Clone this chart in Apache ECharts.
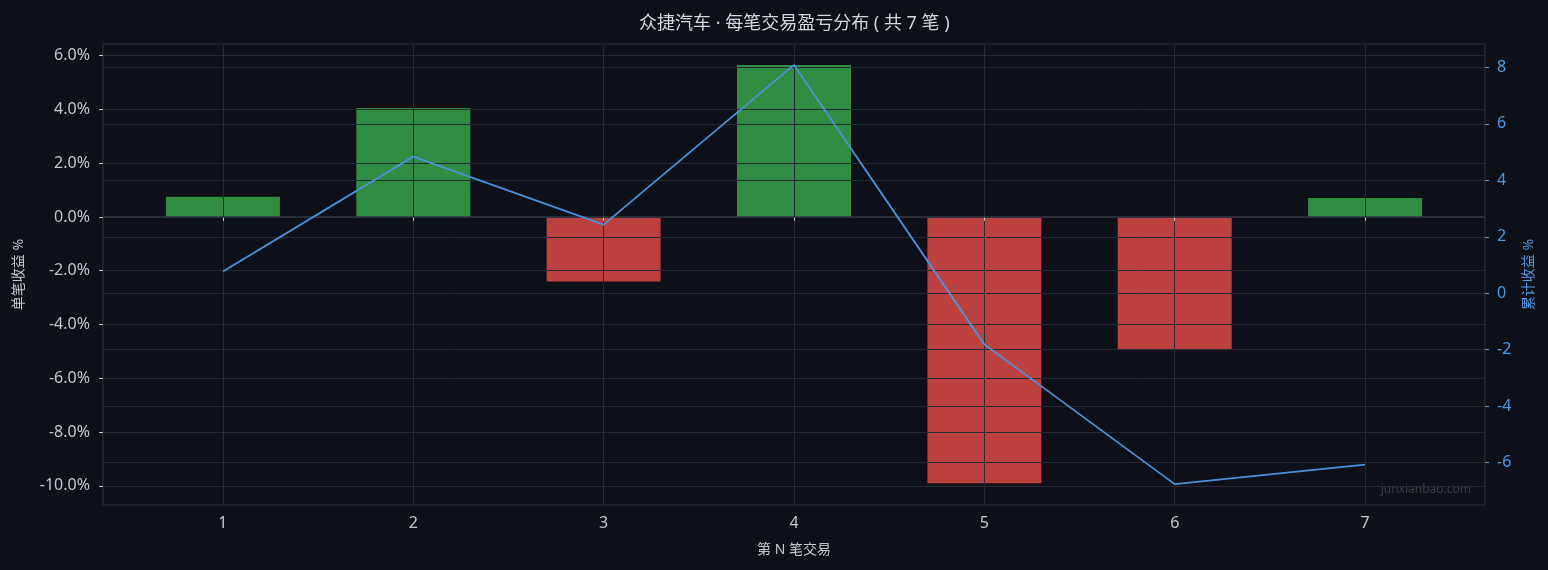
<!DOCTYPE html>
<html>
<head>
<meta charset="utf-8">
<script src="https://cdn.jsdelivr.net/npm/echarts@6/dist/echarts.min.js"></script>
<style>
html,body{margin:0;padding:0;background:#0d1017;}
#c{width:1548px;height:570px;}
</style>
</head>
<body>
<div id="c"></div>
<script>
const trades = [1, 2, 3, 4, 5, 6, 7];
const tradeReturns = [0.75, 4.05, -2.40, 5.65, -9.90, -4.92, 0.70];
const cumReturns = [0.77, 4.84, 2.43, 8.09, -1.81, -6.76, -6.07];
const leftTicks = [-10, -8, -6, -4, -2, 0, 2, 4, 6];
const rightTicks = [-6, -4, -2, 0, 2, 4, 6, 8];

const FONT = '"Noto Sans","Noto Sans CJK SC",sans-serif';
const GRID = '#252932';

const chart = echarts.init(document.getElementById('c'));
chart.setOption({
  backgroundColor: '#0d1017',
  animation: false,
  textStyle: { fontFamily: FONT },
  title: {
    text: '众捷汽车 · 每笔交易盈亏分布 ( 共 7 笔 )',
    left: 634,
    top: 10,
    textStyle: { color: '#d3d7dd', fontSize: 18, fontWeight: 'normal', fontFamily: FONT }
  },
  graphic: [{
    type: 'text',
    right: 77,
    top: 484,
    style: { text: 'junxianbao.com', fill: '#3b404a', fontSize: 12, fontFamily: FONT }
  }],
  grid: {
    left: 103, right: 63, top: 44, bottom: 65,
    show: true, borderColor: '#2a2e37', borderWidth: 1.2, backgroundColor: 'transparent'
  },
  xAxis: {
    type: 'value',
    min: 0.37, max: 7.63,
    z: 3,
    name: '第 N 笔交易',
    nameLocation: 'middle',
    nameGap: 38,
    nameTextStyle: { color: '#c4c8ce', fontSize: 14, fontFamily: FONT },
    axisLine: { show: false },
    axisTick: { show: true, customValues: trades, length: 4, lineStyle: { color: '#c4c8ce' } },
    axisLabel: { customValues: trades, color: '#c4c8ce', fontSize: 16, margin: 10, fontFamily: FONT },
    splitLine: { show: true, lineStyle: { color: GRID, width: 1 } }
  },
  yAxis: [{
    type: 'value',
    position: 'left',
    min: -10.71, max: 6.43,
    z: 3,
    name: '单笔收益 %',
    nameLocation: 'middle',
    nameRotate: 90,
    nameGap: 77,
    nameTextStyle: { color: '#c4c8ce', fontSize: 14, fontFamily: FONT },
    axisLine: { show: false },
    axisTick: { show: true, customValues: leftTicks, length: 4, lineStyle: { color: '#c4c8ce' } },
    axisLabel: { customValues: leftTicks, color: '#c4c8ce', fontSize: 16, margin: 13, fontFamily: FONT,
      formatter: v => v.toFixed(1) + '%' },
    splitLine: { show: true, lineStyle: { color: GRID, width: 1 } }
  }, {
    type: 'value',
    position: 'right',
    min: -7.50, max: 8.83,
    z: 3,
    name: '累计收益 %',
    nameLocation: 'middle',
    nameRotate: 90,
    nameGap: 36,
    nameTextStyle: { color: '#4a9be8', fontSize: 14, fontFamily: FONT },
    axisLine: { show: false },
    axisTick: { show: true, customValues: rightTicks, length: 4, lineStyle: { color: '#4a9be8' } },
    axisLabel: { customValues: rightTicks, color: '#4a9be8', fontSize: 16, margin: 12, fontFamily: FONT,
      formatter: v => String(v) },
    splitLine: { show: true, lineStyle: { color: GRID, width: 1 } }
  }],
  series: [{
    type: 'bar',
    yAxisIndex: 0,
    barWidth: 114,
    z: 2,
    data: trades.map((t, i) => ({
      value: [t, tradeReturns[i]],
      itemStyle: { color: tradeReturns[i] >= 0 ? '#2f8c41' : '#bb403e' }
    })),
    markLine: {
      silent: true,
      symbol: 'none',
      label: { show: false },
      z: 4,
      lineStyle: { color: '#30343c', width: 1.5, type: 'solid' },
      data: [{ yAxis: 0 }]
    }
  }, {
    type: 'line',
    yAxisIndex: 1,
    z: 6,
    symbol: 'none',
    lineStyle: { color: '#4a92dc', width: 1.8 },
    data: trades.map((t, i) => [t, cumReturns[i]])
  }]
});
</script>
</body>
</html>
